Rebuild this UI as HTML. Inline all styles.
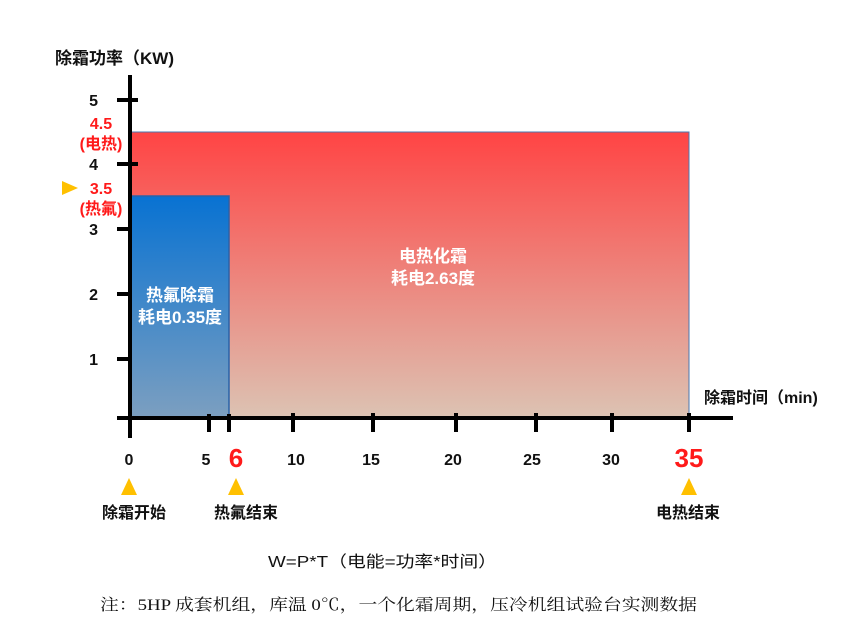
<!DOCTYPE html>
<html><head><meta charset="utf-8"><style>
body{margin:0;background:#fff;width:852px;height:625px;overflow:hidden}
svg text{font-family:"Liberation Sans","Noto Sans CJK SC",sans-serif}
</style></head><body>
<svg width="852" height="625" viewBox="0 0 852 625">
<defs>
<linearGradient id="r" x1="0" y1="0" x2="0" y2="1"><stop offset="0" stop-color="#ff4444"/><stop offset="1" stop-color="#dcc3b3"/></linearGradient>
<linearGradient id="b" x1="0" y1="0" x2="0" y2="1"><stop offset="0" stop-color="#0872d2"/><stop offset="1" stop-color="#7c9fc0"/></linearGradient>
</defs>
<rect x="130" y="132" width="559" height="286" fill="url(#r)" stroke="#4a78b0" stroke-width="1"/>
<rect x="130" y="196" width="99" height="222" fill="url(#b)" stroke="#2a62a8" stroke-width="1.5"/>
<g stroke="#000" stroke-width="4">
<line x1="130" y1="75" x2="130" y2="438"/>
<line x1="117" y1="418" x2="733" y2="418"/>
<line x1="117" y1="100" x2="138" y2="100"/>
<line x1="117" y1="164" x2="138" y2="164"/>
<line x1="117" y1="229" x2="132" y2="229"/>
<line x1="117" y1="294" x2="132" y2="294"/>
<line x1="117" y1="359" x2="132" y2="359"/>
<line x1="209" y1="414" x2="209" y2="432"/>
<line x1="229" y1="414" x2="229" y2="432"/>
<line x1="293" y1="413" x2="293" y2="432"/>
<line x1="373" y1="413" x2="373" y2="432"/>
<line x1="456" y1="413" x2="456" y2="432"/>
<line x1="536" y1="413" x2="536" y2="432"/>
<line x1="612" y1="413" x2="612" y2="432"/>
<line x1="689" y1="413" x2="689" y2="432"/>
</g>
<g font-weight="bold" font-size="16" fill="#111">
<text x="55" y="64" font-size="17">除霜功率（KW)</text>
<text x="98" y="106" text-anchor="end">5</text>
<text x="98" y="170" text-anchor="end">4</text>
<text x="98" y="235" text-anchor="end">3</text>
<text x="98" y="300" text-anchor="end">2</text>
<text x="98" y="365" text-anchor="end">1</text>
<text x="704" y="403" font-size="16">除霜时间（min)</text>
<g text-anchor="middle">
<text x="129" y="465">0</text><text x="206" y="465">5</text>
<text x="296" y="465">10</text><text x="371" y="465">15</text><text x="453" y="465">20</text>
<text x="532" y="465">25</text><text x="611" y="465">30</text>
<text x="134" y="518">除霜开始</text><text x="246" y="518">热氟结束</text><text x="688" y="518">电热结束</text>
</g>
</g>
<g font-weight="bold" fill="#ff1a1a" text-anchor="middle">
<text x="101" y="129" font-size="16">4.5</text>
<text x="101" y="149" font-size="16">(电热)</text>
<text x="101" y="194" font-size="16">3.5</text>
<text x="101" y="214" font-size="16">(热氟)</text>
<text x="236" y="467" font-size="26">6</text>
<text x="689" y="467" font-size="26">35</text>
</g>
<g fill="#ffc000">
<polygon points="62,181 62,195 78,188"/>
<polygon points="129,478 121,495 137,495"/>
<polygon points="236,478 228,495 244,495"/>
<polygon points="689,478 681,495 697,495"/>
</g>
<g fill="#fff" font-weight="bold" font-size="17" text-anchor="middle">
<text x="180" y="301">热氟除霜</text><text x="180" y="323">耗电0.35度</text>
<text x="433" y="262">电热化霜</text><text x="433" y="284">耗电2.63度</text>
</g>
<text x="268" y="567" font-size="16" fill="#111" textLength="229" lengthAdjust="spacingAndGlyphs">W=P*T（电能=功率*时间）</text>
<text x="100" y="610" font-size="16" fill="#111" textLength="597" lengthAdjust="spacingAndGlyphs" style="font-family:'Liberation Serif','Noto Serif CJK SC',serif">注：5HP 成套机组，库温 0℃，一个化霜周期，压冷机组试验台实测数据</text>
</svg>
</body></html>
